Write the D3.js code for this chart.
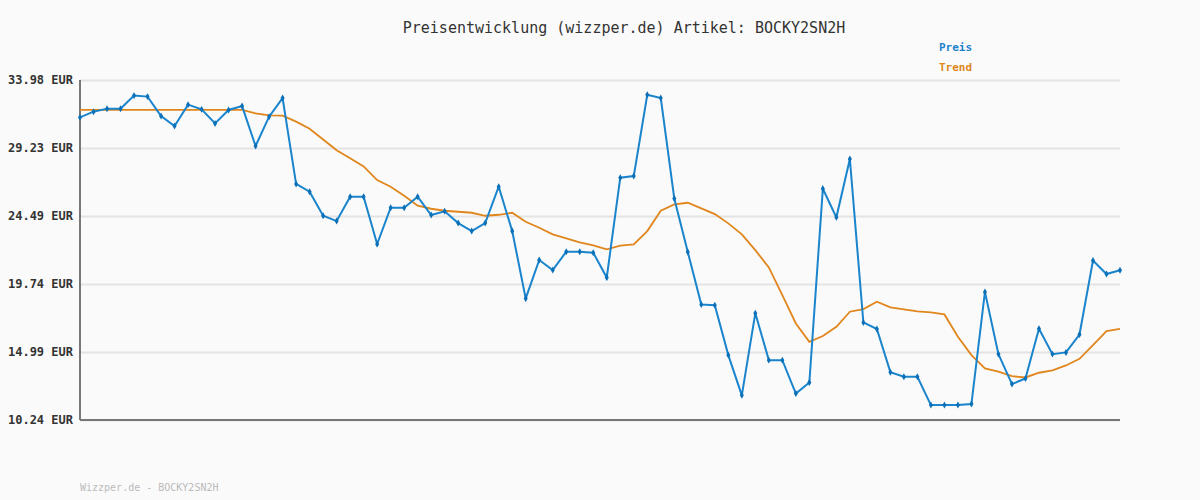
<!DOCTYPE html>
<html><head><meta charset="utf-8">
<script src="https://cdn.jsdelivr.net/npm/d3@7"></script>
<style>body{margin:0;background:#fafafa}svg{display:block}text{font-family:"DejaVu Sans Mono",monospace}</style>
</head><body><svg id="c" width="1200" height="500"></svg>
<script>
const yTicks=[10.24,14.99,19.74,24.49,29.23,33.98];
const tickLabels=["10.24 EUR","14.99 EUR","19.74 EUR","24.49 EUR","29.23 EUR","33.98 EUR"];
const preis=[31.37,31.77,31.98,31.98,32.89,32.82,31.47,30.77,32.26,31.93,30.95,31.89,32.16,29.37,31.42,32.72,26.72,26.18,24.50,24.13,25.83,25.83,22.52,25.06,25.06,25.83,24.55,24.81,23.99,23.43,23.99,26.53,23.43,18.73,21.41,20.71,21.99,21.99,21.92,
20.19,27.16,27.27,32.95,32.72,25.71,21.97,18.31,18.26,14.77,11.96,17.70,14.42,14.42,12.09,12.86,26.39,24.39,28.46,17.05,16.59,13.58,13.26,13.26,11.28,11.28,11.28,11.35,19.18,14.84,12.75,13.14,16.61,14.84,14.96,16.21,21.38,20.43,20.69];
const trend=[31.89,31.89,31.89,31.89,31.89,31.89,31.89,31.89,31.89,31.89,31.89,31.89,31.89,31.65,31.51,31.49,31.07,30.58,29.83,29.07,28.51,27.95,26.99,26.53,25.90,25.20,24.99,24.85,24.78,24.71,24.50,24.57,24.71,24.08,23.66,23.20,22.92,22.64,22.44,
22.15,22.41,22.50,23.43,24.85,25.30,25.41,25.02,24.62,23.97,23.20,22.10,20.89,18.96,16.98,15.70,16.10,16.75,17.80,17.98,18.50,18.10,17.96,17.82,17.75,17.61,16.05,14.77,13.84,13.61,13.30,13.21,13.54,13.70,14.05,14.51,15.47,16.45,16.61];
const title="Preisentwicklung (wizzper.de) Artikel: BOCKY2SN2H";
const footer="Wizzper.de - BOCKY2SN2H";
const svg=d3.select("#c");
svg.append("rect").attr("width",1200).attr("height",500).attr("fill","#fafafa");
const x=d3.scaleLinear().domain([0,preis.length-1]).range([80,1120]);
const y=d3.scaleLinear().domain([10.24,33.98]).range([420,80]);
const ya=svg.append("g").attr("transform","translate(80,0)").call(d3.axisLeft(y).tickValues(yTicks).tickSize(-1040).tickFormat((d,i)=>tickLabels[i]));
ya.select(".domain").remove();
ya.selectAll("line").attr("stroke","#e3e3e3").attr("stroke-width",2);
ya.selectAll("text").attr("font-size",12).attr("font-weight","bold").attr("fill","#333").attr("x",-7).attr("font-family","DejaVu Sans Mono");
svg.append("line").attr("x1",80).attr("x2",80).attr("y1",80).attr("y2",420).attr("stroke","#777").attr("stroke-width",2);
svg.append("line").attr("x1",80).attr("x2",1120).attr("y1",420).attr("y2",420).attr("stroke","#777").attr("stroke-width",2);
const line=d3.line().x((d,i)=>x(i)).y(d=>y(d));
svg.append("path").datum(trend).attr("d",line).attr("fill","none").attr("stroke","#e0861c").attr("stroke-width",1.8);
svg.append("path").datum(preis).attr("d",line).attr("fill","none").attr("stroke","#1a84cc").attr("stroke-width",2);
svg.selectAll(".m").data(preis).enter().append("path").attr("d",d3.symbol(d3.symbolDiamond,14)).attr("transform",(d,i)=>`translate(${x(i)},${y(d)})`).attr("fill","#0a70b8");
svg.append("text").attr("x",624).attr("y",33).attr("text-anchor","middle").attr("font-size",15).attr("fill","#333").text(title);
svg.append("text").attr("x",939).attr("y",51).attr("font-size",11).attr("font-weight","bold").attr("fill","#1a84cc").text("Preis");
svg.append("text").attr("x",939).attr("y",71).attr("font-size",11).attr("font-weight","bold").attr("fill","#e0861c").text("Trend");
svg.append("text").attr("x",80).attr("y",491).attr("font-size",10).attr("fill","#bbb").text(footer);
</script></body></html>
